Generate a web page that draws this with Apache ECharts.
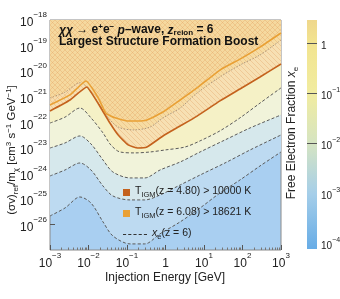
<!DOCTYPE html>
<html><head><meta charset="utf-8">
<script src="https://cdn.jsdelivr.net/npm/echarts@6/dist/echarts.min.js"></script>
<style>html,body{margin:0;padding:0;background:#fff}#c{width:340px;height:299px}</style>
</head><body><div id="c"></div>
<script>
// ---------------- data ----------------
// T_IGM(z = 4.80) > 10000 K  (dark orange)
const energyDark = [1e-3, 3.3e-3, 9.1e-3, 1.16e-2, 2.1e-2, 3.6e-2, 5.9e-2, 0.107, 0.19, 0.33, 0.86, 2.4, 6.6, 26, 86, 285, 1000];
const sigmaDark  = [2.75e-22, 7.4e-22, 2.4e-21, 1.5e-21, 3.6e-22, 9.3e-23, 3.16e-23, 1.29e-23, 9.8e-24, 1.07e-23, 2.9e-23, 7.1e-23, 1.74e-22, 6.8e-22, 2.0e-21, 5.9e-21, 1.9e-20];
// T_IGM(z = 6.08) > 18621 K  (light orange)
const energyLight = [1e-3, 3.3e-3, 8.6e-3, 1.8e-2, 2.8e-2, 4.9e-2, 0.107, 0.19, 0.33, 0.86, 2.4, 6.6, 26, 86, 285, 1000];
const sigmaLight  = [4.7e-22, 1.17e-21, 4.1e-21, 8.9e-22, 2.3e-22, 1.48e-22, 1.12e-22, 1.12e-22, 1.23e-22, 2.5e-22, 7.4e-22, 2.2e-21, 1.1e-20, 2.95e-20, 8.7e-20, 3.1e-19];
// x_e(z = 6) contours, top to bottom
const energyXe1 = [1e-3, 2.45e-3, 6e-3, 1.16e-2, 3.2e-2, 5.9e-2, 0.145, 0.4, 0.86, 2.4, 6.6, 26, 86, 285, 1000];
const sigmaXe1  = [8.9e-22, 1.5e-21, 3.5e-21, 1.5e-21, 1.58e-22, 6.5e-23, 5e-23, 6.5e-23, 1.48e-22, 3.6e-22, 1.38e-21, 5.9e-21, 1.73e-20, 4.3e-20, 1.66e-19];
const energyXe2 = [1e-3, 2.45e-3, 6e-3, 1.16e-2, 2.38e-2, 3.8e-2, 6.6e-2, 0.16, 0.4, 0.97, 3.2, 7.9, 26, 86, 285, 1000];
const sigmaXe2  = [9.3e-23, 1.58e-22, 3.6e-22, 1.48e-22, 3.8e-23, 1.29e-23, 6.85e-24, 6.3e-24, 6.85e-24, 8.2e-24, 1.07e-23, 1.86e-23, 4.6e-23, 1.48e-22, 5.6e-22, 2.2e-21];
const energyXe3 = [1e-3, 2.45e-3, 6e-3, 1.16e-2, 2.38e-2, 4.3e-2, 0.12, 0.29, 0.72, 2.4, 7.9, 35, 157, 1000];
const sigmaXe3  = [9.8e-24, 1.54e-23, 2.9e-23, 1.41e-23, 3.33e-24, 1.13e-24, 6.6e-25, 6.6e-25, 1.35e-24, 2.78e-24, 6.85e-24, 2.02e-23, 5.96e-23, 1.92e-22];
const energyXe4 = [1e-3, 2.45e-3, 6e-3, 1.16e-2, 2.38e-2, 4.3e-2, 0.12, 0.29, 0.72, 2.4, 7.9, 35, 157, 1000];
const sigmaXe4  = [7.9e-25, 1.35e-24, 2.54e-24, 1.35e-24, 3.2e-25, 1.3e-25, 9.1e-26, 9.1e-26, 1.42e-25, 3.5e-25, 8.6e-25, 2.54e-24, 8.2e-24, 3.17e-23];
const energyXe5 = [1e-3, 2.45e-3, 6e-3, 1.16e-2, 2.38e-2, 4.3e-2, 0.12, 0.29, 0.72, 2.4, 7.9, 26, 86, 285, 1000];
const sigmaXe5  = [2.15e-26, 4.4e-26, 1.19e-25, 6.9e-26, 1.26e-26, 3.55e-27, 1.73e-27, 1.73e-27, 4.3e-27, 1.26e-26, 4.4e-26, 1.7e-25, 5.5e-25, 1.94e-24, 6.85e-24];
// colour bar
const colorbarMin = 7.9e-5, colorbarMax = 2.95;
const colorbarLines = [1, 0.1, 0.01, 1e-3, 2.5e-4, 1e-4];

// ---------------- helpers ----------------
const FONT = '"Liberation Sans", Arial, "DejaVu Sans", sans-serif';
const pair = (xs, ys) => xs.map((x, i) => [x, ys[i]]);
function expLabel(v) {
  const l = Math.log10(v), e = Math.round(l);
  if (Math.abs(l - e) > 0.01) return '';
  if (e === 0) return '{b|1}';
  return '{b|10}{s|' + (e < 0 ? '\u2212' : '') + Math.abs(e) + '}';
}
function hatch(fill, line, dir) {
  const n = 5, c = document.createElement('canvas');
  c.width = c.height = n;
  const g = c.getContext('2d');
  g.fillStyle = fill; g.fillRect(0, 0, n, n);
  g.fillStyle = line;
  for (let i = 0; i < n; i++) g.fillRect(i, dir > 0 ? n - 1 - i : i, 1, 1);
  return c;
}
const richTick = (fs, ss, lh) => ({
  b: { fontSize: fs, fontFamily: FONT, color: '#222', lineHeight: lh, verticalAlign: 'bottom' },
  s: { fontSize: ss, fontFamily: FONT, color: '#222', lineHeight: ss + 1, verticalAlign: 'top' }
});
const subRich = {
  t: { fontSize: 10.5, fontFamily: FONT, color: '#222', lineHeight: 13, verticalAlign: 'top' },
  i: { fontSize: 10.5, fontFamily: FONT, fontStyle: 'italic', color: '#222', lineHeight: 13, verticalAlign: 'top' },
  sub: { fontSize: 7.5, fontFamily: FONT, color: '#222', lineHeight: 8, verticalAlign: 'bottom' }
};

// band colour painted ABOVE each contour (series filled towards the top)
const aboveColors = ['#f2e8a6', '#f5f1c6', '#f1f3da', '#d6e8ec', '#bddaf1'];
const belowLowest = '#a9cff1';
const lineDash = [[1.5, 1.5], [3, 2], [3, 2], [3, 2], [3, 2]];
const contours = [[energyXe1, sigmaXe1], [energyXe2, sigmaXe2], [energyXe3, sigmaXe3], [energyXe4, sigmaXe4], [energyXe5, sigmaXe5]];

const series = [];
for (let i = contours.length - 1; i >= 0; i--) {
  series.push({
    type: 'line', name: 'xe', xAxisIndex: 0, yAxisIndex: 0, data: pair(contours[i][0], contours[i][1]),
    symbol: 'none', smooth: 0.3, silent: true, z: 2,
    itemStyle: { color: '#333' },
    lineStyle: { color: '#5a5a5a', width: 1, type: lineDash[i] },
    areaStyle: { color: aboveColors[i], opacity: 1, origin: 'end' }
  });
}
series.push({
  type: 'line', name: 'T480', xAxisIndex: 0, yAxisIndex: 0, data: pair(energyDark, sigmaDark),
  symbol: 'none', smooth: 0.15, silent: true, z: 3,
  itemStyle: { color: '#c4621d' },
  lineStyle: { color: '#c4621d', width: 1.6 },
  areaStyle: { color: { image: hatch('rgba(250,208,160,0.5)', 'rgba(225,155,90,0.32)', -1), repeat: 'repeat' }, opacity: 1, origin: 'end' }
});
series.push({
  type: 'line', name: 'T608', xAxisIndex: 0, yAxisIndex: 0, data: pair(energyLight, sigmaLight),
  symbol: 'none', smooth: 0.15, silent: true, z: 4,
  itemStyle: { color: '#e9a035' },
  lineStyle: { color: '#e9a035', width: 1.6 },
  areaStyle: { color: { image: hatch('rgba(245,185,120,0.08)', 'rgba(225,155,90,0.3)', 1), repeat: 'repeat' }, opacity: 1, origin: 'end' }
});
// colour bar fill
series.push({
  type: 'line', xAxisIndex: 1, yAxisIndex: 1, data: [[0, colorbarMin], [1, colorbarMin]],
  symbol: 'none', silent: true, lineStyle: { width: 0 },
  areaStyle: { origin: 'end', opacity: 1, color: new echarts.graphic.LinearGradient(0, 0, 0, 1, [
    { offset: 0, color: '#efd78c' }, { offset: 0.103, color: '#f2e490' }, { offset: 0.322, color: '#f1eca0' },
    { offset: 0.54, color: '#d5e4c2' }, { offset: 0.759, color: '#a5cee9' }, { offset: 1, color: '#67ace6' }]) },
  markLine: { silent: true, symbol: 'none', label: { show: false },
    lineStyle: { color: '#555', width: 1, type: 'solid' },
    data: colorbarLines.map(v => ({ yAxis: v })) }
});

const legendBase = (name, top, w, h, icon) => ({
  data: [{ name: name, icon: icon }], left: 123, top: top, orient: 'vertical', itemWidth: w, itemHeight: h,
  selectedMode: false, padding: 0, itemGap: 0,
  formatter: n => n === 'T480' ? '{t|T}{sub|IGM}{t|(z = 4.80) > 10000 K}'
    : n === 'T608' ? '{t|T}{sub|IGM}{t|(z = 6.08) > 18621 K}' : '{i|x}{sub|e}{t|(z = 6)}',
  textStyle: { rich: subRich, fontFamily: FONT, fontSize: 10.5 }
});

const option = {
  animation: false,
  backgroundColor: '#fff',
  grid: [
    { left: 50, top: 20, width: 231, height: 230, show: true, backgroundColor: belowLowest, borderColor: '#8a8a8a', borderWidth: 1, outerBoundsMode: 'none' },
    { left: 307, top: 20, width: 10, height: 229, show: false, outerBoundsMode: 'none' }
  ],
  xAxis: [
    { type: 'log', gridIndex: 0, min: 1e-3, max: 1e3, splitNumber: 6,
      axisLine: { show: false }, splitLine: { show: false },
      axisTick: { show: true, inside: true, length: 5, lineStyle: { color: '#555' } },
      minorTick: { show: true, splitNumber: 9, length: 2.5, lineStyle: { color: '#777' } },
      axisLabel: { margin: 2, formatter: expLabel, rich: richTick(12, 8, 18) } },
    { type: 'value', gridIndex: 1, min: 0, max: 1, show: false }
  ],
  yAxis: [
    { type: 'log', gridIndex: 0, min: 1e-27, max: 1e-18, splitNumber: 9,
      axisLine: { show: false }, splitLine: { show: false },
      axisTick: { show: true, inside: true, length: 5, lineStyle: { color: '#555' } },
      minorTick: { show: true, splitNumber: 9, length: 2.5, lineStyle: { color: '#777' } },
      axisLabel: { margin: 3, formatter: expLabel, rich: richTick(12, 8, 18) } },
    { type: 'log', gridIndex: 1, min: colorbarMin, max: colorbarMax, position: 'right', splitNumber: 5,
      axisLine: { show: false }, splitLine: { show: false },
      axisTick: { show: false },
      minorTick: { show: true, splitNumber: 9, length: 2, lineStyle: { color: '#666' } },
      axisLabel: { margin: 4, formatter: expLabel, rich: richTick(10, 7, 15) } }
  ],
  legend: [
    legendBase('T480', 186, 7, 7, 'rect'),
    legendBase('T608', 207, 7, 7, 'rect'),
    legendBase('xe', 228, 24, 7, 'path://M0,0h3v1h-3zM5,0h3v1h-3zM10,0h3v1h-3zM15,0h3v1h-3zM20,0h3v1h-3z')
  ],
  graphic: [
    { type: 'text', x: 59, y: 23, z: 100, silent: true, style: {
      text: '{i|\u03c7\u03c7} \u2192 e{p|+}e{p|\u2212} {i|p}\u2013wave, {i|z}{sb|reion} = 6',
      font: 'bold 12px ' + FONT, fill: '#111',
      rich: { i: { font: 'italic bold 12px ' + FONT, fill: '#111', lineHeight: 14, verticalAlign: 'bottom' },
              p: { font: 'bold 8px ' + FONT, fill: '#111', lineHeight: 9, verticalAlign: 'top' },
              sb: { font: 'bold 8px ' + FONT, fill: '#111', lineHeight: 8, verticalAlign: 'bottom' } } } },
    { type: 'text', x: 59, y: 36, z: 100, silent: true, style: { text: 'Largest Structure Formation Boost', font: 'bold 12px ' + FONT, fill: '#111' } },
    { type: 'text', x: 12, y: 150, z: 100, rotation: Math.PI / 2, silent: true, style: {
      text: '{t|(\u03c3v)}{sb|ref}{t|/m}{sb|\u03c7}{t| [cm}{sp|3}{t| s}{sp|\u22121}{t| GeV}{sp|\u22121}{t|]}',
      align: 'center', verticalAlign: 'middle',
      rich: { t: { font: '11.5px ' + FONT, fill: '#222', lineHeight: 15, verticalAlign: 'middle' },
              sb: { font: '8px ' + FONT, fill: '#222', lineHeight: 9, verticalAlign: 'bottom' },
              sp: { font: '8px ' + FONT, fill: '#222', lineHeight: 9, verticalAlign: 'top' } } } },
    { type: 'text', x: 292, y: 133, z: 100, rotation: Math.PI / 2, silent: true, style: {
      text: '{t|Free Electron Fraction }{i|x}{sb|e}', align: 'center', verticalAlign: 'middle',
      rich: { t: { font: '12px ' + FONT, fill: '#222', lineHeight: 15, verticalAlign: 'middle' },
              i: { font: 'italic 12px ' + FONT, fill: '#222', lineHeight: 15, verticalAlign: 'middle' },
              sb: { font: '8px ' + FONT, fill: '#222', lineHeight: 9, verticalAlign: 'bottom' } } } },
    { type: 'text', x: 165, y: 278, z: 100, silent: true, style: { text: 'Injection Energy [GeV]', font: '12px ' + FONT, fill: '#222', align: 'center', verticalAlign: 'middle' } }
  ],
  series: series
};
const chart = echarts.init(document.getElementById('c'), null, { renderer: 'canvas', width: 340, height: 299 });
chart.setOption(option);
</script>
</body></html>
